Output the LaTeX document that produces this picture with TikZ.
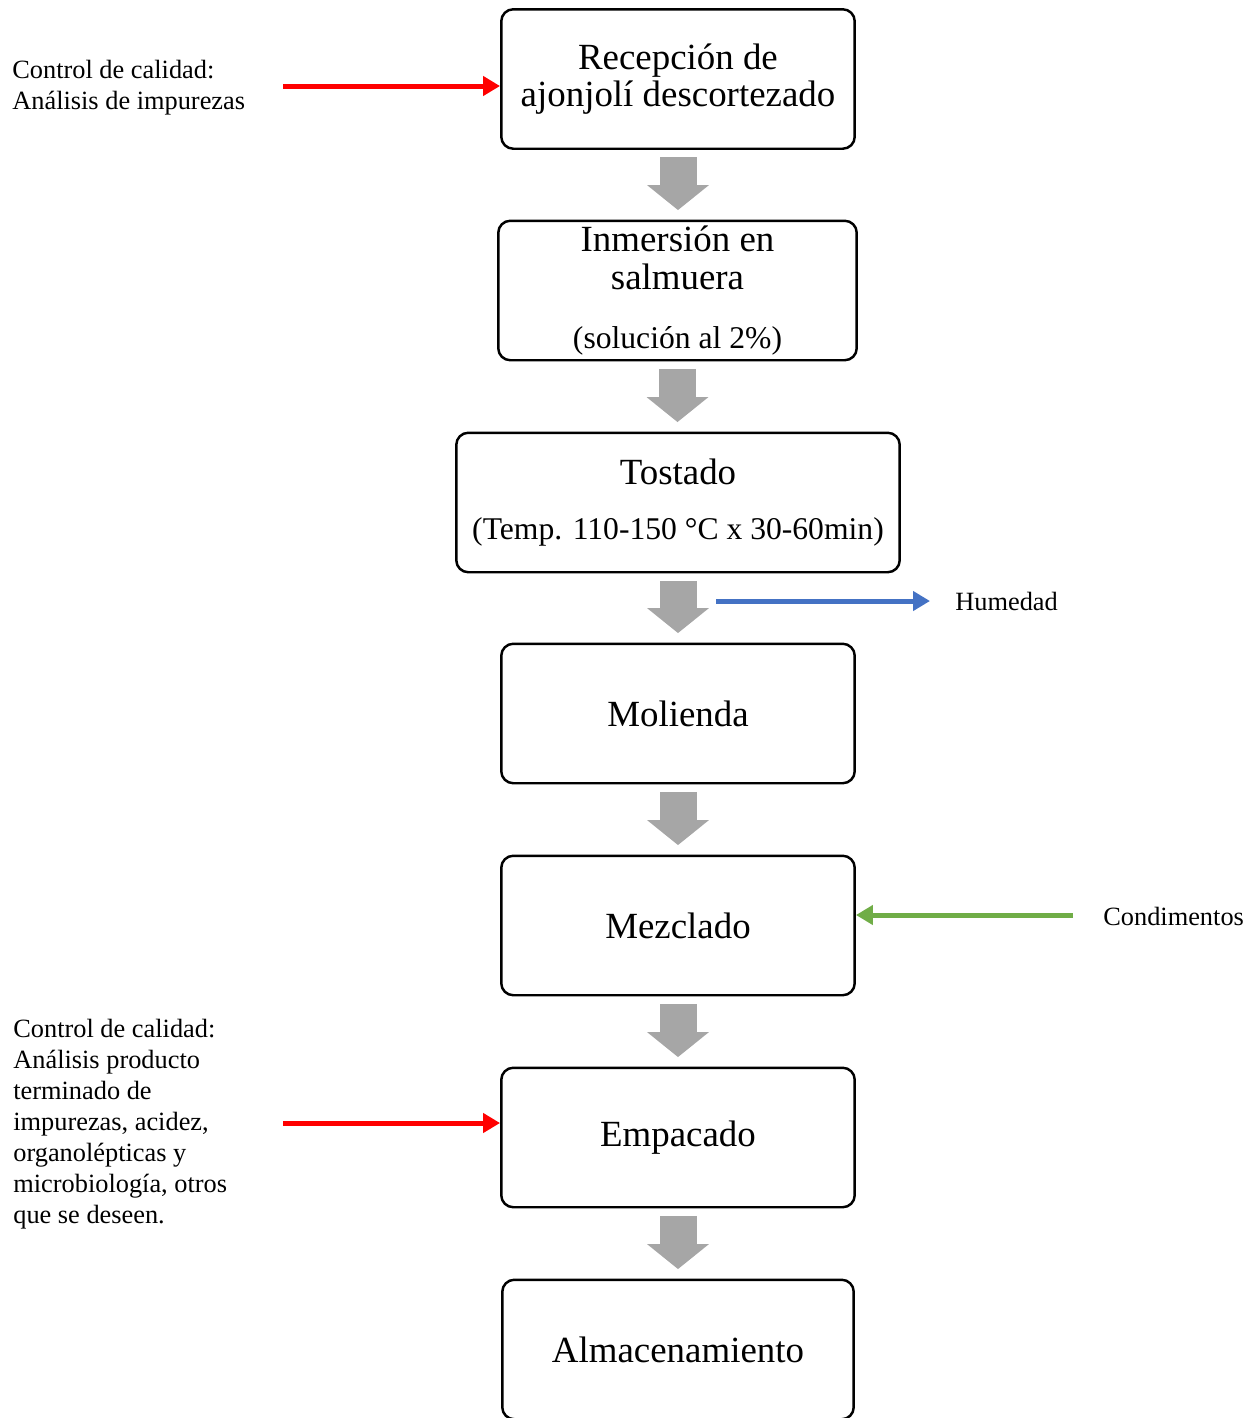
\documentclass[tikz,border=0pt]{standalone}
\usepackage{fontspec}
\setmainfont{Liberation Serif}
\usetikzlibrary{arrows.meta,calc}
\definecolor{flechagris}{HTML}{A6A6A6}
\definecolor{rojo}{HTML}{FF0000}
\definecolor{azul}{HTML}{4472C4}
\definecolor{verde}{HTML}{70AD47}
\tikzset{
  paso/.style={draw, line width=1.4pt, rounded corners=0.24cm, minimum width=7.07cm, minimum height=2.79cm, align=center, inner sep=0pt, font=\fontsize{21}{21.5}\selectfont},
  nota/.style={anchor=west, align=left, inner sep=0pt, font=\fontsize{15}{17.6}\selectfont},
  flujo/.style={line width=0.74cm, flechagris, -{Triangle[width=1.24cm,length=0.5cm,line width=0pt]}, shorten <=0.15cm, shorten >=0.19cm},
  entrada/.style={line width=0.1cm, -{Triangle[width=0.38cm,length=0.34cm]}},
}
\begin{document}
\begin{tikzpicture}[x=0.02cm,y=-0.02cm]
\useasboundingbox (0,0) rectangle (1251,1418);
% etapas del proceso
\node[paso] (r1) at (678,79) {Recepción de\\ajonjolí descortezado};
\node[paso, minimum width=7.17cm] (r2) at (677.5,290.5) {Inmersión en\\salmuera\\[0.42cm]{\fontsize{18}{21}\selectfont(solución al 2\%)}};
\node[paso, minimum width=8.87cm] (r3) at (678,502.5) {Tostado\\[0.34cm]{\fontsize{18}{21}\selectfont(Temp. 110-150 °C x 30-60min)}};
\node[paso] (r4) at (678,713.5) {Molienda};
\node[paso] (r5) at (678,925.5) {Mezclado};
\node[paso] (r6) at (678,1137.5) {Empacado};
\node[paso, minimum width=7.03cm] (r7) at (678,1349.5) {Almacenamiento};
% flechas grises
\foreach \a/\b in {r1/r2, r2/r3, r3/r4, r4/r5, r5/r6, r6/r7}
  \draw[flujo] (\a.south) -- (\a.south |- \b.north);
% entradas y salidas
\node[nota] (cc1) at (12,88) {Control de calidad:\\Análisis de impurezas};
\node[nota] (cc2) at (13,1124) {Control de calidad:\\Análisis producto\\terminado de\\impurezas, acidez,\\organolépticas y\\microbiología, otros\\que se deseen.};
\node[nota] (hum) at (955,601) {Humedad};
\node[nota] (cond) at (1103,916) {Condimentos};
\coordinate (c1) at (283,86);
\coordinate (c2) at (716,601);
\coordinate (c3) at (1073,915);
\coordinate (c4) at (283,1123);
\draw[entrada, rojo] (c1) -- (c1 -| r1.west);
\draw[entrada, azul, shorten >=0.5cm] (c2) -- (hum.west);
\draw[entrada, verde] (c3) -- (c3 -| r5.east);
\draw[entrada, rojo] (c4) -- (c4 -| r6.west);
\end{tikzpicture}
\end{document}
